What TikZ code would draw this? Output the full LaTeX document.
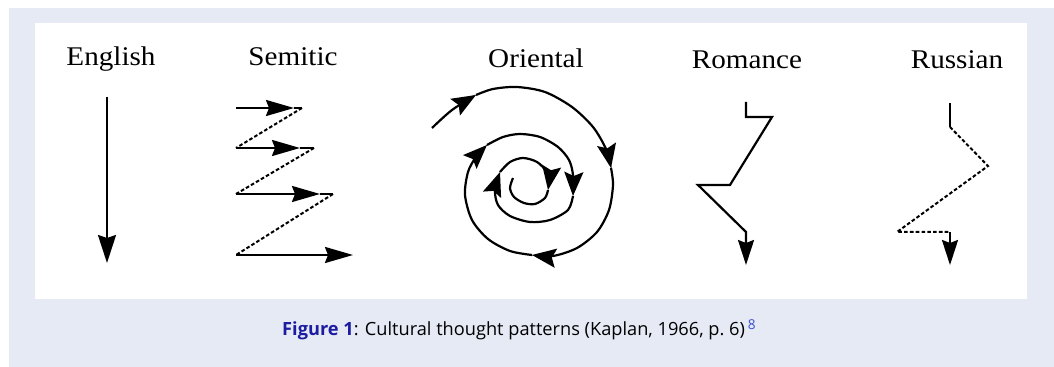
\documentclass[tikz,border=0pt]{standalone}
\usepackage{fontspec}
\setmainfont{Liberation Serif}[FakeStretch=1.08]
\newfontfamily\capfont{Open Sans}
\usepackage{xcolor}
\usetikzlibrary{arrows.meta}

\definecolor{panelbg}{HTML}{E6EAF5}
\definecolor{figblue}{HTML}{1C1CA0}
\definecolor{supblue}{HTML}{3B4FD0}

\begin{document}
\begin{tikzpicture}[
  x=0.5pt, y=-0.5pt,
  lbl/.style={font=\fontsize{13.5}{16}\selectfont, anchor=base},
  pen/.style={line width=1.1pt},
  dsh/.style={line width=1pt, dash pattern=on 1.8pt off 1.1pt},
  bighead/.style={-{Stealth[length=14pt,width=9pt,inset=1.5pt]}},
  midhead/.style={-{Stealth[length=14pt,width=8pt,inset=1.5pt]}},
  downhead/.style={-{Stealth[length=12.5pt,width=8pt,inset=1.5pt]}},
  spihead/.style={-{Stealth[length=12pt,width=9.5pt,inset=2pt]}}
]
\useasboundingbox (0,0) rectangle (1054,367);
\fill[white] (0,0) rectangle (1054,367);
\fill[panelbg] (9,8) rectangle (1054,367);
\fill[white] (35,23) rectangle (1027,299);

% labels
\node[lbl] (english) at (111,66) {English};
\node[lbl] (semitic) at (293,66) {Semitic};
\node[lbl] (oriental) at (536,68) {Oriental};
\node[lbl] (romance) at (747,69) {Romance};
\node[lbl] (russian) at (957,69) {Russian};

% English
\coordinate (e0) at (107,97);
\coordinate (e1) at (107,263);
\draw[pen, bighead] (e0) -- (e1);

% Semitic
\coordinate (s1) at (236,108); \coordinate (s1t) at (294,108); \coordinate (s1e) at (302,108);
\coordinate (s2) at (236,148); \coordinate (s2t) at (300,148); \coordinate (s2e) at (314,148);
\coordinate (s3) at (236,194); \coordinate (s3t) at (320,194); \coordinate (s3e) at (333,194);
\coordinate (s4) at (236,255); \coordinate (s4t) at (353,255);
\draw[pen, midhead] (s1) -- (s1t);
\draw[pen] (s1t) -- (s1e);
\draw[pen, midhead] (s2) -- (s2t);
\draw[pen] (s2t) -- (s2e);
\draw[pen, midhead] (s3) -- (s3t);
\draw[pen] (s3t) -- (s3e);
\draw[pen, midhead] (s4) -- (s4t);
\draw[dsh] (s1e) -- (s2);
\draw[dsh] (s2e) -- (s3);
\draw[dsh] (s3e) -- (s4);

% Oriental
\coordinate (o0) at (432,128);
\coordinate (o1) at (476,95);
\coordinate (o2) at (611,168);
\coordinate (o3) at (532,255);
\coordinate (o4) at (487,145);
\coordinate (o5) at (573,196);
\coordinate (o6) at (500,172);
\coordinate (o7) at (548,190);
\coordinate (o8) at (513,178);
\draw[pen, spihead] plot[smooth] coordinates {(o0) (452,110) (o1)};
\draw[pen, spihead] plot[smooth] coordinates {(o1) (493,89) (517,87) (545,92) (572,107) (593,127) (606,149) (o2)};
\draw[pen, spihead] plot[smooth] coordinates {(o2) (613,185) (609,210) (597,232) (577,248) (553,256) (o3)};
\draw[pen, spihead] plot[smooth] coordinates {(o3) (510,251) (488,239) (472,220) (465,195) (468,172) (476,157) (o4)};
\draw[pen, spihead] plot[smooth] coordinates {(o4) (503,137) (520,134) (540,137) (558,147) (569,160) (573,175) (o5)};
\draw[pen, spihead] plot[smooth] coordinates {(o5) (568,210) (550,220) (530,222) (510,216) (498,205) (495,190) (o6)};
\draw[pen, spihead] plot[smooth] coordinates {(o6) (510,162) (523,158) (537,162) (547,172) (549,180) (o7)};
\draw[pen] plot[smooth] coordinates {(o7) (545,198) (535,204) (524,203) (514,197) (510,188) (o8)};

% Romance
\coordinate (r0) at (746,102);
\coordinate (r1) at (746,117);
\coordinate (r2) at (772,117);
\coordinate (r3) at (730,185);
\coordinate (r4) at (698,185);
\coordinate (r5) at (746,232);
\coordinate (r6) at (746,265);
\draw[pen, downhead] (r0) -- (r1) -- (r2) -- (r3) -- (r4) -- (r5) -- (r6);

% Russian
\coordinate (u0) at (950,103);
\coordinate (u1) at (950,127);
\coordinate (u2) at (988,166);
\coordinate (u3) at (897,232);
\coordinate (u4) at (950,232);
\coordinate (u5) at (950,265);
\draw[pen] (u0) -- (u1);
\draw[dsh] (u1) -- (u2) -- (u3) -- (u4);
\draw[pen, downhead] (u4) -- (u5);

% caption
\node[font=\capfont\fontsize{9.1}{11}\selectfont, anchor=base] (caption) at (519,336)
  {\textbf{\color{figblue}Figure 1}: Cultural thought patterns (Kaplan, 1966, p.~6)\,\raisebox{3.2pt}{\fontsize{6.8}{8}\selectfont\color{supblue}8}};
\end{tikzpicture}
\end{document}
